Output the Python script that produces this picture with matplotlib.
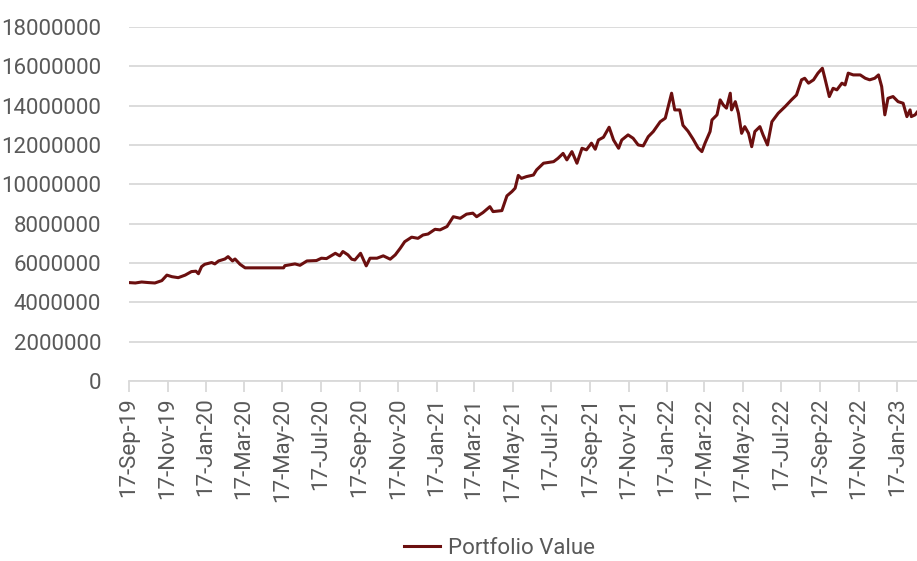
import pandas as pd
import matplotlib.pyplot as plt
import matplotlib.dates as mdates
from matplotlib.ticker import MultipleLocator

plt.rcParams['font.family'] = ['Roboto', 'DejaVu Sans']

# Days since 17-Sep-2019 and portfolio value (millions)
days = [0, 10, 20, 31, 41, 52, 60, 68, 78, 89, 99, 106, 110, 115, 120, 131, 136, 142, 152, 157,
        164, 168, 176, 184, 245, 247, 263, 271, 282, 297, 305, 313, 327, 334, 339, 347, 353, 358,
        367, 376, 382, 393, 403, 414, 422, 430, 437, 448, 458, 466, 474, 485, 493, 504, 514, 525,
        535, 545, 551, 561, 572, 577, 591, 599, 607, 612, 617, 622, 630, 641, 646, 657, 673, 680,
        688, 694, 702, 710, 718, 725, 733, 739, 744, 752, 761, 768, 776, 781, 791, 799, 807, 815,
        823, 831, 842, 850, 860, 865, 873, 878, 886, 894, 902, 908, 913, 921, 924, 932, 937, 942,
        947, 953, 955, 961, 966, 971, 976, 982, 987, 992, 1000, 1005, 1012, 1019, 1029, 1040, 1050,
        1058, 1066, 1071, 1077, 1085, 1092, 1099, 1103, 1110, 1116, 1122, 1130, 1135, 1140, 1148,
        1159, 1167, 1174, 1182, 1188, 1193, 1198, 1203, 1211, 1219, 1227, 1233, 1238, 1240, 1246, 1249]
values = [5.0, 4.98, 5.03, 5.0, 4.98, 5.1, 5.38, 5.3, 5.25, 5.38, 5.56, 5.58, 5.45, 5.81, 5.93, 6.02,
          5.95, 6.1, 6.2, 6.32, 6.1, 6.2, 5.93, 5.75, 5.75, 5.86, 5.95, 5.88, 6.1, 6.12, 6.24, 6.22,
          6.49, 6.36, 6.58, 6.41, 6.19, 6.15, 6.49, 5.85, 6.24, 6.24, 6.36, 6.19, 6.41, 6.75, 7.08,
          7.31, 7.25, 7.42, 7.47, 7.71, 7.68, 7.85, 8.35, 8.27, 8.48, 8.53, 8.35, 8.56, 8.86, 8.61,
          8.66, 9.41, 9.63, 9.8, 10.45, 10.3, 10.39, 10.47, 10.73, 11.07, 11.15, 11.32, 11.57, 11.24,
          11.66, 11.07, 11.83, 11.75, 12.09, 11.78, 12.25, 12.39, 12.9, 12.25, 11.83, 12.25, 12.51,
          12.34, 12.0, 11.95, 12.42, 12.68, 13.18, 13.36, 14.63, 13.78, 13.78, 13.0, 12.7, 12.3,
          11.85, 11.66, 12.09, 12.68, 13.27, 13.53, 14.29, 14.03, 13.87, 14.63, 13.78, 14.2, 13.61,
          12.59, 12.93, 12.59, 11.91, 12.68, 12.93, 12.51, 12.0, 13.18, 13.61, 13.95, 14.29, 14.54,
          15.31, 15.39, 15.14, 15.31, 15.65, 15.9, 15.39, 14.46, 14.88, 14.8, 15.14, 15.05, 15.65,
          15.56, 15.56, 15.39, 15.31, 15.39, 15.56, 14.97, 13.53, 14.37, 14.46, 14.2, 14.12, 13.44,
          13.78, 13.44, 13.53, 13.66]

tick_dates = ['2019-09-17', '2019-11-17', '2020-01-17', '2020-03-17', '2020-05-17', '2020-07-17',
              '2020-09-17', '2020-11-17', '2021-01-17', '2021-03-17', '2021-05-17', '2021-07-17',
              '2021-09-17', '2021-11-17', '2022-01-17', '2022-03-17', '2022-05-17', '2022-07-17',
              '2022-09-17', '2022-11-17', '2023-01-17']

start = pd.Timestamp('2019-09-17')
df = pd.DataFrame({'Date': start + pd.to_timedelta(days, unit='D'),
                   'Value': [v * 1e6 for v in values]})

fig = plt.figure(figsize=(9.17, 5.61), dpi=100)
ax = fig.add_axes([0.1407, 0.321, 0.8593, 0.631])

ax.plot(df['Date'], df['Value'], color='#6b0f0f', linewidth=2.2, label='Portfolio Value')

ax.set_xlim(start, pd.Timestamp('2023-02-17'))
ax.set_ylim(0, 18000000)
ax.yaxis.set_major_locator(MultipleLocator(2000000))
ax.yaxis.set_major_formatter(plt.FuncFormatter(lambda v, p: f'{int(v)}'))
ax.set_xticks(pd.to_datetime(tick_dates))
ax.xaxis.set_major_formatter(mdates.DateFormatter('%d-%b-%y'))

ax.grid(axis='y', color='#d9d9d9', linewidth=1.3)
ax.set_axisbelow(True)
for s in ['top', 'right', 'left']:
    ax.spines[s].set_visible(False)
ax.spines['bottom'].set_color('#d9d9d9')
ax.spines['bottom'].set_linewidth(1.3)

ax.tick_params(axis='y', length=0, pad=20, labelsize=16, labelcolor='#595959')
ax.tick_params(axis='x', length=8, width=1.3, color='#d9d9d9', pad=4,
               labelsize=16, labelcolor='#595959', labelrotation=90)

fig.legend(loc='center', bbox_to_anchor=(0.545, 0.022), frameon=False,
           fontsize=16, labelcolor='#595959', handlelength=1.6, handletextpad=0.4)

fig.savefig('out.png', dpi=100)
